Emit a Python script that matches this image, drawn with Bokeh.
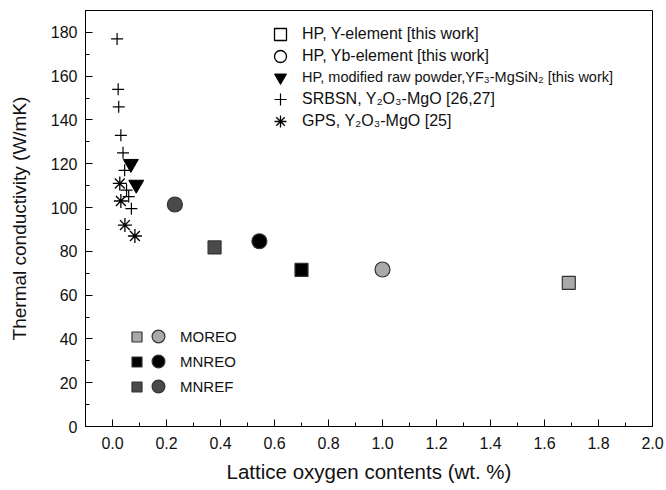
from bokeh.plotting import figure
from bokeh.models import Legend, LegendItem, FixedTicker, Range1d
from bokeh.core.properties import value
from bokeh.embed import file_html
from bokeh.resources import INLINE

FONT = "Liberation Sans"
NAN = float("nan")

# ---- data ----
srbsn_x = [0.017, 0.021, 0.023, 0.031, 0.039, 0.045, 0.052, 0.060, 0.070]
srbsn_y = [177, 154, 146, 133, 125, 117, 108, 105, 99.5]
gps_x = [0.027, 0.031, 0.046, 0.083]
gps_y = [111, 103, 92, 87]
mod_x = [0.068, 0.088]
mod_y = [120, 110.5]

# series: MOREO (light gray), MNREO (black), MNREF (dark gray)
y_sq_x = [1.69, 0.70, 0.378]   # HP, Y-element
y_sq_y = [65.6, 71.5, 81.8]
yb_ci_x = [1.00, 0.544, 0.231]  # HP, Yb-element
yb_ci_y = [71.7, 84.6, 101.4]
group_names = ["MOREO", "MNREO", "MNREF"]
group_fill = ["#a9a9a9", "#000000", "#4a4a4a"]

legend_labels = ["HP, Y-element [this work]",
                 "HP, Yb-element [this work]",
                 "HP, modified raw powder,YF\u2083-MgSiN\u2082 [this work]",
                 "SRBSN, Y\u2082O\u2083-MgO [26,27]",
                 "GPS, Y\u2082O\u2083-MgO [25]"]

x_ticks = [0.0, 0.2, 0.4, 0.6, 0.8, 1.0, 1.2, 1.4, 1.6, 1.8, 2.0]
y_ticks = [0, 20, 40, 60, 80, 100, 120, 140, 160, 180]

W, H = 666, 490
B_LEFT, B_RIGHT, B_TOP, B_BOTTOM = 85, 14, 10, 64
FRAME_BOTTOM = H - B_BOTTOM

p = figure(width=W, height=H, output_backend="svg", toolbar_location=None,
           x_range=Range1d(-0.1, 2.0), y_range=Range1d(0, 190),
           min_border_left=B_LEFT, min_border_right=B_RIGHT,
           min_border_top=B_TOP, min_border_bottom=B_BOTTOM)
p.grid.visible = False
p.background_fill_color = "white"
p.border_fill_color = "white"
p.outline_line_color = "black"
p.outline_line_width = 1

for ax in (p.xaxis[0], p.yaxis[0]):
    ax.major_tick_in = 7
    ax.major_tick_out = 0
    ax.minor_tick_in = 4
    ax.minor_tick_out = 0
    ax.axis_line_color = "black"
    ax.major_tick_line_color = "black"
    ax.minor_tick_line_color = "black"
    ax.major_label_text_font = FONT
    ax.major_label_text_font_size = "16px"
    ax.major_label_text_color = "#111111"
    ax.axis_label_text_font = FONT
    ax.axis_label_text_font_style = "normal"
    ax.axis_label_text_color = "#111111"

p.xaxis.ticker = FixedTicker(ticks=x_ticks, minor_ticks=[t / 10 for t in range(-1, 21)])
p.xaxis.major_label_overrides = {t: f"{t:.1f}" for t in x_ticks}
p.yaxis.ticker = FixedTicker(ticks=y_ticks, minor_ticks=list(range(0, 191, 10)))
p.xaxis.axis_label = "Lattice oxygen contents (wt. %)"
p.yaxis.axis_label = "Thermal conductivity (W/mK)"
p.xaxis.axis_label_text_font_size = "20.5px"
p.yaxis.axis_label_text_font_size = "19px"
p.xaxis.major_label_standoff = 10
p.xaxis.axis_label_standoff = 8
p.yaxis.major_label_standoff = 8
p.yaxis.axis_label_standoff = 18

# ---- data marks ----
p.scatter(srbsn_x, srbsn_y, marker="cross", size=12, line_color="black", line_width=1.2)
p.scatter(gps_x, gps_y, marker="asterisk", size=14, line_color="black", line_width=1.3)
p.scatter(mod_x, mod_y, marker="inverted_triangle", size=15, fill_color="black", line_color="black")
p.scatter(y_sq_x, y_sq_y, marker="square", size=13, fill_color=group_fill,
          line_color="#333333", line_width=1.2)
p.scatter(yb_ci_x, yb_ci_y, marker="circle", size=15, fill_color=group_fill,
          line_color="#333333", line_width=1.2)

# ---- legends: placeholder NaN renderers (never drawn in the plot area) ----
def dummy(**kw):
    return p.scatter(x=[NAN], y=[NAN], **kw)

def one_row_legend(label, renderer, glyph_left, row_center, glyph, standoff, fs):
    """A one-item legend whose glyph box is glyph x glyph px (marker = 0.4*glyph)."""
    lg = Legend(items=[LegendItem(label=label, renderers=[renderer])],
                location=(glyph_left - B_LEFT, FRAME_BOTTOM - row_center - glyph / 2),
                border_line_color=None, background_fill_alpha=0, padding=0, margin=0,
                glyph_width=glyph, glyph_height=glyph, label_height=16,
                label_standoff=standoff, label_text_font=FONT,
                label_text_font_size=fs, label_text_color="#111111")
    p.add_layout(lg, "center")

top_renderers = [
    dummy(marker="square", fill_color="white", line_color="black", line_width=1.3),
    dummy(marker="circle", fill_color="white", line_color="black", line_width=1.3),
    dummy(marker="inverted_triangle", fill_color="black", line_color="black"),
    dummy(marker="cross", line_color="black", line_width=1.2),
    dummy(marker="asterisk", line_color="black", line_width=1.3),
]
TOP_FIRST, TOP_PITCH = 34.0, 21.7
for i, (lab, r) in enumerate(zip(legend_labels, top_renderers)):
    one_row_legend(lab, r, 265, TOP_FIRST + i * TOP_PITCH, 30, 7,
                   "14.5px" if i == 2 else "16px")

LOW_FIRST, LOW_PITCH = 336.0, 25.0
for i, (name, fc) in enumerate(zip(group_names, group_fill)):
    rs = dummy(marker="square", fill_color=fc, line_color="#333333", line_width=1.2)
    rc = dummy(marker="circle", fill_color=fc, line_color="#333333", line_width=1.2)
    yc = LOW_FIRST + i * LOW_PITCH
    one_row_legend(value(" "), rs, 123.5, yc, 25, 0, "2px")
    one_row_legend(name, rc, 142, yc, 32, 6, "15px")

open("out.html", "w").write(file_html(p, INLINE))
